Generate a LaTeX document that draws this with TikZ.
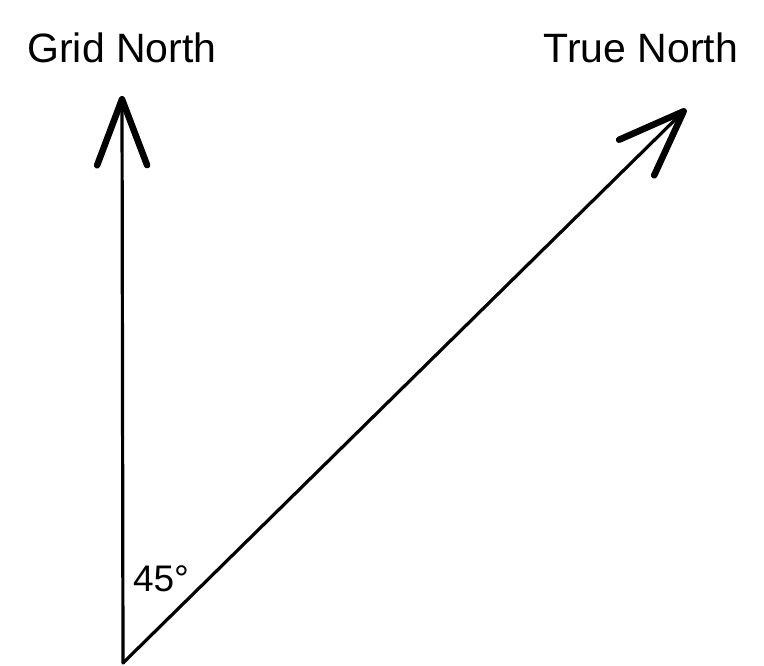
\documentclass[tikz,border=0pt]{standalone}
\usepackage{fontspec}
\setmainfont{Liberation Sans}
\usetikzlibrary{arrows.meta, positioning}
\tikzset{
    shaft/.style={line width=3.2pt, line cap=round,
        -{Straight Barb[length=66pt, width=50pt, line width=6.5pt, round]}},
    northlabel/.style={font=\fontsize{41}{48}\selectfont, inner sep=0pt}
}

\begin{document}
\begin{tikzpicture}[x=1pt, y=-1pt]
    \useasboundingbox (0,0) rectangle (764,666);
    % base point and arrow tips
    \coordinate (base) at (123,663);
    \coordinate (gridtip) at (122,96);
    \coordinate (truetip) at (686,109);
    % directions
    \draw[shaft] (base) -- (gridtip);
    \draw[shaft] (base) -- (truetip);
    % labels
    \node[northlabel] (gridlabel) at (122,48) {Grid North};
    \node[northlabel] (truelabel) at (641,48) {True North};
    \node[northlabel, font=\fontsize{37}{44}\selectfont] (angle) at (161,579) {45°};
\end{tikzpicture}
\end{document}
